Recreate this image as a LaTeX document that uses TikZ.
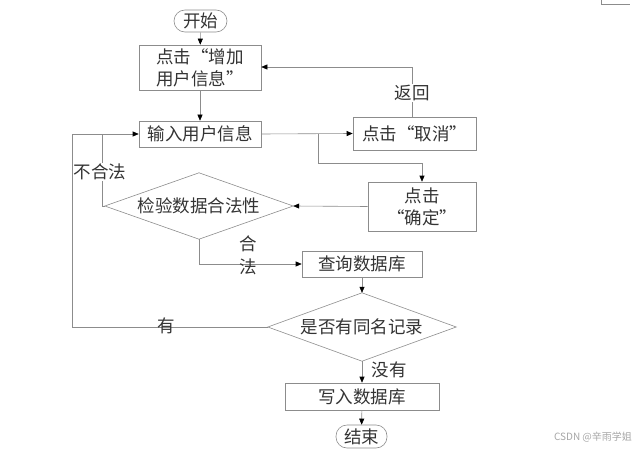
\documentclass[tikz,border=0pt]{standalone}
\usepackage{fontspec}
\newfontfamily\cjk{Noto Sans CJK SC}
\usetikzlibrary{shapes.geometric,arrows.meta}
\definecolor{ln}{gray}{0.55}
\definecolor{tx}{gray}{0.2}
\tikzset{
  every node/.style={font=\cjk\fontsize{17.5}{22}\selectfont, text=tx},
  box/.style={draw=ln, line width=0.6pt, inner sep=0pt, align=center},
  term/.style={draw=ln, line width=0.6pt, rounded corners=11pt, inner sep=0pt},
  conn/.style={draw=ln, line width=0.6pt, -{Triangle[length=6pt,width=5pt,color=black]}},
  plain/.style={draw=ln, line width=0.6pt},
  lab/.style={inner sep=1pt}
}
\begin{document}
\begin{tikzpicture}[x=1pt,y=-1pt]
\useasboundingbox (0,0) rectangle (644,449);
% nodes
\node[term, minimum width=53pt, minimum height=22pt] (start) at (200.5,21) {开始};
\node[box, minimum width=122pt, minimum height=45pt] (add) at (200,67.5) {点击“增加\\用户信息”};
\node[box, minimum width=122pt, minimum height=26pt] (input) at (200,134) {输入用户信息};
\node[box, minimum width=123pt, minimum height=33pt] (cancel) at (414.5,133.5) {点击“取消”};
\node[box, minimum width=108pt, minimum height=49pt] (confirm) at (422,206.5) {点击\\“确定”};
\node[draw=none, minimum width=188pt, minimum height=66pt, inner sep=0pt] (d1) at (199,206) {检验数据合法性};
\draw[ln, line width=0.6pt] (d1.west) -- (d1.north) -- (d1.east) -- (d1.south) -- cycle;
\node[box, minimum width=120pt, minimum height=26pt] (query) at (362,264) {查询数据库};
\node[draw=none, minimum width=188pt, minimum height=68pt, inner sep=0pt] (d2) at (362,327) {是否有同名记录};
\draw[ln, line width=0.6pt] (d2.west) -- (d2.north) -- (d2.east) -- (d2.south) -- cycle;
\node[box, minimum width=154pt, minimum height=27pt] (write) at (362,396.5) {写入数据库};
\node[term, minimum width=51pt, minimum height=23pt] (end) at (361.5,436.5) {结束};
% helper coordinates
\coordinate (br) at (318,134);
\coordinate (brd) at (318,163);
\coordinate (cft) at (422,163);
\coordinate (ctop) at (412,67);
\coordinate (cbot) at (412,117);
\coordinate (l1) at (102,206);
\coordinate (l1t) at (102,134);
\coordinate (l2) at (72,327);
\coordinate (l2t) at (72,134);
\coordinate (d1b) at (199,264);
% connectors
\draw[conn] (start) -- (add);
\draw[conn] (add) -- (input);
\draw[conn] (input.east) -- (cancel.west);
\draw[conn] (br) -- (brd) -- (cft) -- (confirm.north);
\draw[conn] (cbot) -- (ctop) -- (add.east |- ctop);
\node[lab, fill=white] (fanhui) at (412,93) {返回};
\draw[conn] (confirm.west) -- (d1.east);
\draw[conn] (d1.west) -- (l1) -- (l1t) -- (input.west);
\node[lab, fill=white] (buhefa) at (100,172) {不合法};
\draw[plain] (d2.west) -- (l2) -- (l2t) -- (l1t);
\node[lab] (you) at (166,326) {有};
\draw[conn] (d1.south) -- (d1b) -- (query.west);
\node[lab] (he) at (248,244) {合};
\node[lab] (fa) at (248,267) {法};
\draw[conn] (query) -- (d2.north);
\draw[conn] (d2.south) -- (write.north);
\node[lab] (meiyou) at (389,370) {没有};
\draw[conn] (write) -- (end);
% crop mark and watermark
\draw[ln, line width=0.6pt] (601,0) -- (601,4) -- (630,4);
\node[font=\cjk\fontsize{10}{11}\selectfont, text=gray!70] (wm) at (593,437) {CSDN @辛雨学姐};
\end{tikzpicture}
\end{document}
